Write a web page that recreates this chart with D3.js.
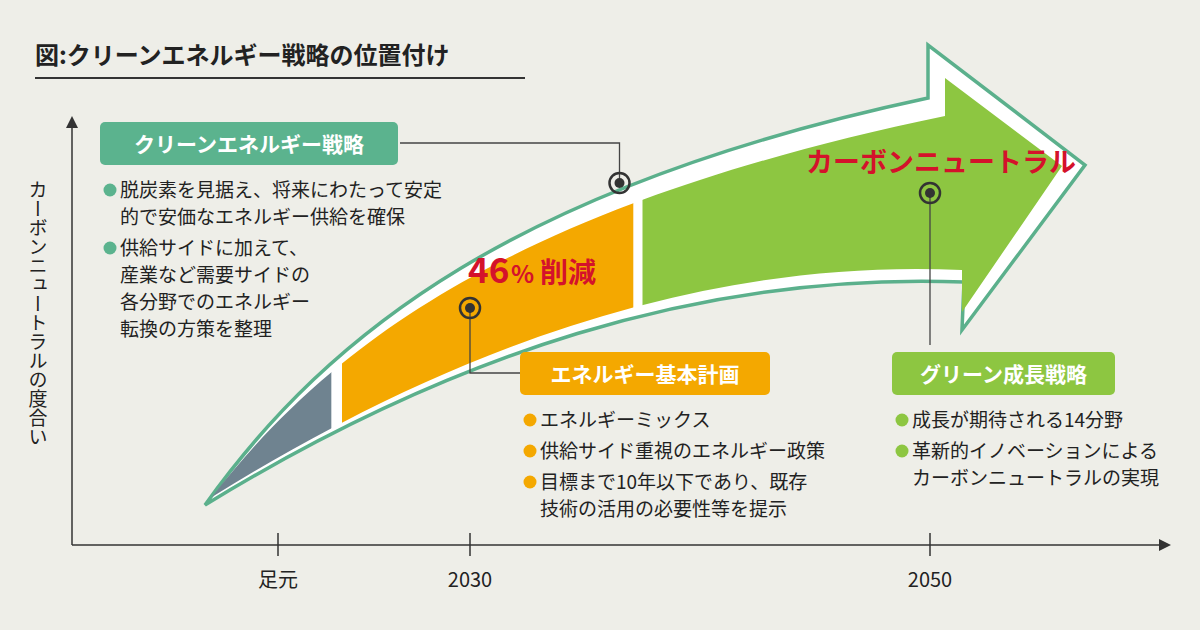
<!DOCTYPE html>
<html><head><meta charset="utf-8">
<script src="https://cdn.jsdelivr.net/npm/d3@7"></script>
<style>body{margin:0;background:#eeeee8}text{font-family:"Noto Sans CJK JP",sans-serif}</style>
</head><body><div id="c"></div>
<script>
// ===== data
var tickYears = [2021, 2030, 2050],
	tickLabels = ["足元", "2030", "2050"],
	segYears = [[2016.5, 2023.5], [2024, 2037.1], [2037.5, 2064]],
	segColors = ["#6f8390", "#f4a800", "#8dc641"],
	markerYears = [2030, 2036.5, 2050],
	markerY = [308, 183, 193];

var W = 1200, H = 630, ink = "#333", green = "#5bb08c";
var svg = d3.select("#c").append("svg").attr("width", W).attr("height", H);
svg.append("rect").attr("width", W).attr("height", H).attr("fill", "#eeeee8");

// piecewise scale: year -> x pixel
var x = d3.scaleLinear().domain(tickYears).range([278, 470, 930]);

// title
svg.append("text").attr("x", 35).attr("y", 64).attr("font-size", 24).attr("font-weight", 700)
	.attr("fill", "#222").text("図:クリーンエネルギー戦略の位置付け");
svg.append("line").attr("x1", 35).attr("x2", 525).attr("y1", 78).attr("y2", 78).attr("stroke", "#333").attr("stroke-width", 2);

// axes
var defs = svg.append("defs");
defs.append("marker").attr("id", "ah").attr("viewBox", "0 0 10 10").attr("refX", 5).attr("refY", 5)
	.attr("markerWidth", 8).attr("markerHeight", 8).attr("orient", "auto")
	.append("path").attr("d", "M0,0 L10,5 L0,10 Z").attr("fill", ink);
svg.append("line").attr("x1", 72).attr("y1", 545).attr("x2", 72).attr("y2", 122).attr("stroke", ink).attr("stroke-width", 1.5).attr("marker-end", "url(#ah)");
svg.append("line").attr("x1", 72).attr("y1", 545).attr("x2", 1165).attr("y2", 545).attr("stroke", ink).attr("stroke-width", 1.5).attr("marker-end", "url(#ah)");
tickYears.forEach(function (t, i) {
	svg.append("line").attr("x1", x(t)).attr("x2", x(t)).attr("y1", 533).attr("y2", 556).attr("stroke", ink).attr("stroke-width", 1.5);
	svg.append("text").attr("x", x(t)).attr("y", 587).attr("text-anchor", "middle").attr("font-size", 20).attr("fill", "#222").text(tickLabels[i]);
});
svg.append("text").attr("transform", "translate(38,180)").attr("font-size", 19).attr("fill", "#222")
	.attr("writing-mode", "tb").attr("glyph-orientation-vertical", 0).text("カーボンニュートラルの度合い");

// big arrow
var outer = "M205,505 C330,330 520,185 928,98 L928,45 L1085,165 L962,330 L964,282 C700,272 450,355 205,505 Z";
var inner = "M212,497 C335,338 525,203 945,116 L945,78 L1062,166 L962,312 L962,270 C700,258 448,350 212,497 Z";
svg.append("path").attr("d", outer).attr("fill", "#fff").attr("stroke", green).attr("stroke-width", 3.5).attr("stroke-linejoin", "miter");
segYears.forEach(function (s, i) {
	var id = "cl" + i;
	defs.append("clipPath").attr("id", id).append("rect").attr("x", x(s[0])).attr("y", 0).attr("width", x(s[1]) - x(s[0])).attr("height", H);
	svg.append("path").attr("d", inner).attr("fill", segColors[i]).attr("clip-path", "url(#" + id + ")");
});

// leaders & markers
var lc = "#444";
function poly(pts) { svg.append("polyline").attr("points", pts.join(" ")).attr("fill", "none").attr("stroke", lc).attr("stroke-width", 1.3); }
poly([[x(markerYears[1]), markerY[1]], [x(markerYears[1]), 143], [400, 143]]);
poly([[x(markerYears[0]), markerY[0]], [x(markerYears[0]), 373], [520, 373]]);
poly([[x(markerYears[2]), markerY[2]], [x(markerYears[2]), 345]]);
markerYears.forEach(function (m, i) {
	svg.append("circle").attr("cx", x(m)).attr("cy", markerY[i]).attr("r", 10).attr("fill", "none").attr("stroke", "#333").attr("stroke-width", 2.5);
	svg.append("circle").attr("cx", x(m)).attr("cy", markerY[i]).attr("r", 5).attr("fill", "#333");
});

// big labels
svg.append("text").attr("x", 468).attr("y", 283).attr("font-size", 35).attr("font-weight", 700).attr("fill", "#d4122b").text("46");
svg.append("text").attr("x", 511).attr("y", 283).attr("font-size", 24).attr("font-weight", 700).attr("fill", "#d4122b").text("%");
svg.append("text").attr("x", 540).attr("y", 283).attr("font-size", 28).attr("font-weight", 700).attr("fill", "#d4122b").text("削減");
svg.append("text").attr("x", 806).attr("y", 172).attr("font-size", 27).attr("font-weight", 700).attr("fill", "#d4122b").text("カーボンニュートラル");

// boxes with bullets
function box(x0, y0, w, col, title, lines) {
	svg.append("rect").attr("x", x0).attr("y", y0).attr("width", w).attr("height", 43).attr("rx", 5).attr("fill", col);
	svg.append("text").attr("x", x0 + w / 2).attr("y", y0 + 30).attr("text-anchor", "middle").attr("font-size", 21)
		.attr("font-weight", 700).attr("fill", "#fff").text(title);
	var y = y0 + 75;
	lines.forEach(function (b) {
		svg.append("circle").attr("cx", x0 + 10).attr("cy", y - 7).attr("r", 6.5).attr("fill", col);
		b.forEach(function (l) {
			svg.append("text").attr("x", x0 + 20).attr("y", y).attr("font-size", 19).attr("fill", "#222").text(l);
			y += 27;
		});
		y += 4;
	});
}
box(100, 122, 298, "#5bb38e", "クリーンエネルギー戦略", [
	["脱炭素を見据え、将来にわたって安定", "的で安価なエネルギー供給を確保"],
	["供給サイドに加えて、", "産業など需要サイドの", "各分野でのエネルギー", "転換の方策を整理"]]);
box(520, 352, 250, "#f4a800", "エネルギー基本計画", [
	["エネルギーミックス"], ["供給サイド重視のエネルギー政策"],
	["目標まで10年以下であり、既存", "技術の活用の必要性等を提示"]]);
box(892, 352, 223, "#8dc641", "グリーン成長戦略", [
	["成長が期待される14分野"], ["革新的イノベーションによる", "カーボンニュートラルの実現"]]);
</script></body></html>
